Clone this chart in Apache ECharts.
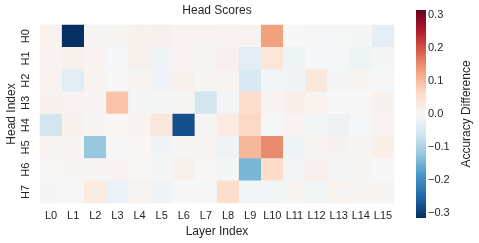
<!DOCTYPE html>
<html>
<head>
<meta charset="utf-8">
<script src="https://cdn.jsdelivr.net/npm/echarts@6/dist/echarts.min.js"></script>
<style>html,body{margin:0;padding:0;background:#fff}#c{width:479px;height:243px}</style>
</head>
<body>
<div id="c"></div>
<script>
const layers = ['L0','L1','L2','L3','L4','L5','L6','L7','L8','L9','L10','L11','L12','L13','L14','L15'];
const heads = ['H0','H1','H2','H3','H4','H5','H6','H7'];
const H0 = [0.010,-0.317,0.005,0.005,0.015,0.015,0.008,0.008,0.010,0.008,0.130,0.000,-0.003,-0.003,-0.005,-0.030];
const H1 = [0.008,0.015,0.008,-0.003,0.015,-0.010,0.008,0.005,0.015,-0.035,0.040,-0.015,-0.003,-0.003,-0.015,-0.005];
const H2 = [0.008,-0.035,0.008,-0.002,0.005,-0.010,0.015,0.005,0.008,-0.050,-0.008,-0.010,0.035,-0.005,0.005,-0.003];
const H3 = [0.012,0.008,0.005,0.090,-0.005,-0.005,0.005,-0.060,-0.008,0.055,0.008,0.018,0.010,0.000,0.000,0.012];
const H4 = [-0.060,0.012,0.005,0.003,0.010,0.035,-0.280,0.005,0.030,0.065,-0.003,0.008,-0.008,-0.020,-0.003,0.008];
const H5 = [0.008,0.005,-0.120,-0.002,0.003,-0.010,0.005,0.008,-0.015,0.105,0.150,-0.015,0.008,0.012,0.005,0.020];
const H6 = [0.003,0.005,0.005,0.008,0.003,-0.005,0.015,0.003,-0.005,-0.146,0.060,-0.008,0.015,-0.005,0.005,0.000];
const H7 = [-0.005,-0.002,0.030,-0.020,0.010,-0.010,0.000,-0.003,0.055,-0.008,-0.008,0.005,-0.008,0.010,0.005,0.005];
const rows = [H0,H1,H2,H3,H4,H5,H6,H7];
const cbTicks = [-0.3,-0.2,-0.1,0.0,0.1,0.2,0.3];
const vmin = -0.315, vmax = 0.315;
const rdbuR = ['#053061','#2166ac','#4393c3','#92c5de','#d1e5f0','#f7f7f7','#fddbc7','#f4a582','#d6604d','#b2182b','#67001f'];

const data = [];
rows.forEach((r, yi) => r.forEach((v, xi) => data.push([xi, yi, v])));

const txt = '#262626';
const font = 'Liberation Sans';
const chart = echarts.init(document.getElementById('c'), null, {renderer: 'canvas'});
chart.setOption({
  animation: false,
  textStyle: {fontFamily: font, color: txt},
  title: {text: 'Head Scores', left: 217, top: 5, padding: 0, textAlign: 'center',
    textStyle: {fontFamily: font, fontSize: 12, fontWeight: 'normal', color: txt}},
  grid: [
    {left: 40, top: 25, width: 354, height: 178, containLabel: false, outerBoundsMode: 'none'},
    {left: 416, top: 10, width: 10, height: 208, containLabel: false, outerBoundsMode: 'none'}
  ],
  xAxis: [
    {type: 'category', data: layers, gridIndex: 0,
      axisLine: {show: false}, axisTick: {show: false}, splitLine: {show: false},
      axisLabel: {fontSize: 11, color: txt, margin: 7, fontFamily: font, interval: 0},
      name: 'Layer Index', nameLocation: 'middle', nameGap: 20,
      nameTextStyle: {fontSize: 12, color: txt, fontFamily: font}},
    {type: 'value', gridIndex: 1, show: false, min: 0, max: 1}
  ],
  yAxis: [
    {type: 'category', data: heads, gridIndex: 0, inverse: true,
      axisLine: {show: false}, axisTick: {show: false}, splitLine: {show: false},
      axisLabel: {fontSize: 11, color: txt, margin: 9, rotate: 90, fontFamily: font}},
    {type: 'value', gridIndex: 1, position: 'right', min: vmin, max: vmax,
      axisLine: {show: false}, splitLine: {show: false},
      axisTick: {show: true, length: 4, customValues: cbTicks, lineStyle: {color: txt, width: 0.8}},
      axisLabel: {fontSize: 11, color: txt, margin: 2, fontFamily: font, customValues: cbTicks,
        formatter: v => (v < 0 ? '\u2212' : '') + Math.abs(v).toFixed(1)},
      name: 'Accuracy Difference', nameLocation: 'middle', nameGap: 35, nameRotate: 90,
      nameTextStyle: {fontSize: 12, color: txt, fontFamily: font}}
  ],
  visualMap: {show: false, type: 'continuous', min: vmin, max: vmax, seriesIndex: 0,
    inRange: {color: rdbuR}},
  graphic: [{
    type: 'rect', shape: {x: 416, y: 10, width: 10, height: 208}, z: 1,
    style: {fill: new echarts.graphic.LinearGradient(0, 1, 0, 0,
      rdbuR.map((c, i) => ({offset: i / (rdbuR.length - 1), color: c})))}
  }, {
    type: 'text', x: 12, y: 114, rotation: Math.PI / 2, z: 5,
    style: {text: 'Head Index', align: 'center', verticalAlign: 'middle',
      fontSize: 12, fontFamily: font, fill: txt}
  }],
  series: [{
    type: 'heatmap', xAxisIndex: 0, yAxisIndex: 0, data: data,
    itemStyle: {borderWidth: 0}, emphasis: {disabled: true}
  }]
});
</script>
</body>
</html>
